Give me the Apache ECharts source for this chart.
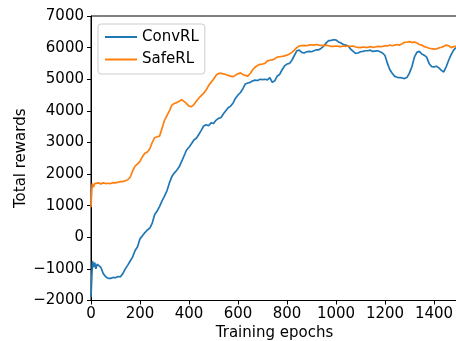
<!DOCTYPE html>
<html>
<head>
<meta charset="utf-8">
<script src="https://cdn.jsdelivr.net/npm/echarts@6/dist/echarts.min.js"></script>
<style>html,body{margin:0;padding:0;background:#fff;}#c{width:456px;height:341px;}</style>
</head>
<body>
<div id="c"></div>
<script>
var convEpochs = [0,3,6,10,15,20,25,30,40,50,60,70,80,90,100,110,120,130,140,150,160,170,180,190,200,210,220,230,240,250,260,270,280,290,300,310,320,330,340,350,360,370,380,390,400,410,420,430,440,450,460,470,480,490,500,510,520,530,540,550,560,570,580,590,600,610,620,630,640,650,660,670,680,690,700,710,720,730,740,750,760,770,780,790,800,810,820,830,840,850,860,870,880,890,900,910,920,930,940,950,960,970,980,990,1000,1010,1020,1030,1040,1050,1060,1070,1080,1090,1100,1110,1120,1130,1140,1150,1160,1170,1180,1190,1200,1210,1220,1230,1240,1250,1260,1270,1280,1290,1300,1310,1320,1330,1340,1350,1360,1370,1380,1390,1400,1410,1420,1430,1440,1450,1460,1470,1480,1490];
var convValues = [-1900,-1300,-750,-950,-800,-1000,-850,-850,-950,-1150,-1250,-1300,-1300,-1270,-1280,-1240,-1250,-1150,-1000,-880,-750,-620,-420,-300,-50,50,150,230,290,450,720,830,980,1150,1300,1470,1720,1920,2030,2120,2230,2400,2580,2760,2850,2960,3080,3130,3250,3380,3520,3560,3530,3620,3600,3700,3760,3780,3900,4000,4100,4150,4250,4400,4500,4580,4700,4850,4880,4900,4950,4970,4960,5000,4990,5000,4980,5050,4900,4950,5100,5150,5300,5420,5480,5500,5600,5750,5900,5920,5850,5830,5870,5880,5870,5900,5930,5930,5980,6050,6150,6220,6230,6250,6240,6180,6150,6100,6080,6050,5950,5880,5820,5830,5870,5880,5900,5900,5920,5880,5890,5900,5870,5830,5750,5500,5300,5180,5090,5060,5050,5040,5020,5060,5200,5400,5700,5850,5880,5800,5760,5700,5500,5400,5390,5410,5360,5280,5230,5400,5600,5780,5920,6000];
var safeEpochs = [0,2,5,10,15,20,30,40,50,60,70,80,90,100,110,120,130,140,150,160,170,180,190,200,210,220,230,240,250,260,270,280,290,300,310,320,330,340,350,360,370,380,390,400,410,420,430,440,450,460,470,480,490,500,510,520,530,540,550,560,570,580,590,600,610,620,630,640,650,660,670,680,690,700,710,720,730,740,750,760,770,780,790,800,810,820,830,840,850,860,870,880,890,900,910,920,930,940,950,960,970,980,990,1000,1010,1020,1030,1040,1050,1060,1070,1080,1090,1100,1110,1120,1130,1140,1150,1160,1170,1180,1190,1200,1210,1220,1230,1240,1250,1260,1270,1280,1290,1300,1310,1320,1330,1340,1350,1360,1370,1380,1390,1400,1410,1420,1430,1440,1450,1460,1470,1480,1490];
var safeValues = [950,1300,1700,1580,1700,1650,1720,1690,1720,1700,1710,1700,1730,1720,1740,1760,1760,1790,1820,1900,2100,2250,2320,2400,2550,2660,2700,2800,3000,3150,3180,3200,3450,3700,3850,4000,4180,4230,4260,4300,4350,4300,4230,4150,4130,4200,4300,4400,4480,4560,4660,4800,4900,5000,5120,5180,5190,5170,5150,5120,5100,5080,5130,5170,5200,5150,5120,5100,5180,5300,5380,5440,5470,5480,5500,5580,5600,5610,5650,5700,5710,5720,5740,5760,5800,5850,5920,6000,6050,6060,6070,6060,6080,6090,6080,6100,6080,6070,6060,6080,6060,6040,6040,6050,6040,6030,6050,6040,6050,6040,6050,6020,6010,6000,6020,6010,6010,6030,6010,6020,6040,6030,6040,6060,6050,6080,6060,6080,6100,6080,6120,6170,6170,6190,6160,6180,6150,6100,6080,6030,6010,5980,5970,5950,5960,5990,6010,6040,6080,6060,6000,6030,6040];
var seriesNames = ['ConvRL', 'SafeRL'];
var xTitle = 'Training epochs';
var yTitle = 'Total rewards';

function pairs(xs, ys) { return xs.map(function (x, i) { return [x, ys[i]]; }); }

var chart = echarts.init(document.getElementById('c'), null, {renderer: 'canvas'});
var font = 'DejaVu Sans';
var fs = 15;
chart.setOption({
  animation: false,
  backgroundColor: '#fff',
  textStyle: {fontFamily: font},
  grid: {left: 91, top: 16, right: -2, bottom: 40.5, containLabel: false, outerBoundsMode: 'none',
    show: true, borderColor: '#000', borderWidth: 1, backgroundColor: 'transparent'},
  legend: {
    orient: 'vertical', left: 98, top: 24,
    padding: [5.5, 6, 7, 6],
    itemWidth: 32, itemHeight: 14, itemGap: 7.5, itemTextGap: 15,
    backgroundColor: 'rgba(255,255,255,0.8)', borderColor: '#cccccc', borderWidth: 1, borderRadius: 3,
    itemStyle: {opacity: 0, color: 'transparent', borderColor: 'transparent', borderWidth: 0},
    textStyle: {fontFamily: font, fontSize: fs, color: '#000'},
    data: seriesNames
  },
  xAxis: {
    type: 'value', min: 0, max: 1498, interval: 200,
    name: xTitle, nameLocation: 'middle', nameGap: 25, nameMoveOverlap: false,
    nameTextStyle: {fontFamily: font, fontSize: fs, color: '#000'},
    axisLine: {show: true, onZero: false, lineStyle: {color: '#000', width: 1}},
    axisTick: {show: true, length: 4, lineStyle: {color: '#000'}},
    axisLabel: {fontFamily: font, fontSize: fs, color: '#000', margin: 6, showMaxLabel: false,
      formatter: function (v) { return String(v); }},
    splitLine: {show: false}
  },
  yAxis: {
    type: 'value', min: -2000, max: 7000, interval: 1000,
    name: yTitle, nameLocation: 'middle', nameGap: 62, nameMoveOverlap: false,
    nameTextStyle: {fontFamily: font, fontSize: fs, color: '#000'},
    axisLine: {show: true, onZero: false, lineStyle: {color: '#000', width: 1}},
    axisTick: {show: true, length: 4, lineStyle: {color: '#000'}},
    axisLabel: {fontFamily: font, fontSize: fs, color: '#000', margin: 7,
      formatter: function (v) { return v < 0 ? '\u2212' + Math.abs(v) : String(v); }},
    splitLine: {show: false}
  },
  series: [
    {name: seriesNames[0], type: 'line', data: pairs(convEpochs, convValues), symbol: 'none', showSymbol: false,
     lineStyle: {color: '#1f77b4', width: 1.7}, itemStyle: {color: '#1f77b4'}},
    {name: seriesNames[1], type: 'line', data: pairs(safeEpochs, safeValues), symbol: 'none', showSymbol: false,
     lineStyle: {color: '#ff7f0e', width: 1.7}, itemStyle: {color: '#ff7f0e'}}
  ]
});
</script>
</body>
</html>
